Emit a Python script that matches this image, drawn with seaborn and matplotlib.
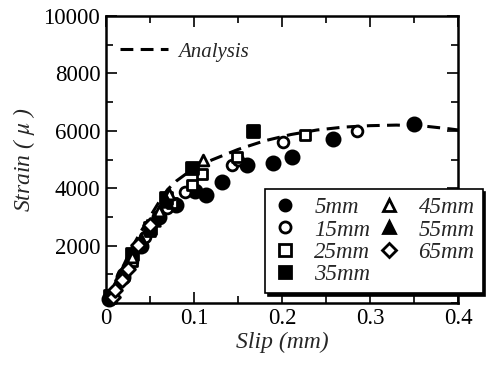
import matplotlib
matplotlib.use("Agg")
import matplotlib.pyplot as plt
import seaborn as sns
import pandas as pd
from matplotlib.lines import Line2D
from matplotlib.ticker import MultipleLocator

# ---- data ----
analysis_x = [0, 0.01, 0.02, 0.03, 0.04, 0.05, 0.06, 0.07, 0.08, 0.10, 0.12, 0.15,
              0.18, 0.21, 0.24, 0.27, 0.30, 0.33, 0.36, 0.39, 0.40]
analysis_y = [0, 650, 1300, 1950, 2500, 3000, 3500, 3950, 4250, 4700, 4980, 5350,
              5650, 5870, 6030, 6130, 6180, 6200, 6170, 6070, 6030]

s5_x = [0.004, 0.02, 0.04, 0.06, 0.08, 0.101, 0.114, 0.132, 0.160, 0.190, 0.211, 0.258, 0.350]
s5_y = [150, 900, 2000, 3000, 3400, 3900, 3780, 4200, 4800, 4880, 5090, 5700, 6250]
s15_x = [0.005, 0.02, 0.045, 0.07, 0.090, 0.143, 0.150, 0.201, 0.285]
s15_y = [200, 1000, 2300, 3300, 3850, 4800, 5000, 5610, 6000]
s25_x = [0.006, 0.03, 0.05, 0.075, 0.098, 0.109, 0.149, 0.226]
s25_y = [220, 1450, 2500, 3500, 4100, 4500, 5100, 5850]
s35_x = [0.005, 0.03, 0.05, 0.068, 0.098, 0.167]
s35_y = [250, 1700, 2600, 3650, 4700, 6000]
s45_x = [0.005, 0.03, 0.06, 0.072, 0.110]
s45_y = [200, 1600, 3200, 3800, 4980]
s55_x = [0.005, 0.02, 0.04, 0.055, 0.068]
s55_y = [200, 1100, 2200, 2900, 3550]
s65_x = [0.008, 0.010, 0.018, 0.025, 0.036, 0.050]
s65_y = [210, 450, 800, 1200, 2020, 2700]

labels = ["5mm", "15mm", "25mm", "35mm", "45mm", "55mm", "65mm"]
series_x = [s5_x, s15_x, s25_x, s35_x, s45_x, s55_x, s65_x]
series_y = [s5_y, s15_y, s25_y, s35_y, s45_y, s55_y, s65_y]
markers = ["o", "o", "s", "s", "^", "^", "D"]
filled = [True, False, False, True, False, True, False]
msizes = [90, 60, 60, 80, 60, 70, 50]

xticks = [0, 0.1, 0.2, 0.3, 0.4]
xticklabels = ["0", "0.1", "0.2", "0.3", "0.4"]
yticks = [2000, 4000, 6000, 8000, 10000]

# ---- style ----
sns.set_style("ticks")
plt.rcParams["font.family"] = ["Liberation Serif", "DejaVu Serif"]
plt.rcParams["mathtext.fontset"] = "stix"

fig = plt.figure(figsize=(4.9, 3.74), dpi=100)
ax = fig.add_axes([0.216, 0.190, 0.719, 0.767])

dash = (0, (4.2, 2.4))
sns.lineplot(x=analysis_x, y=analysis_y, ax=ax, color="black", lw=2.2,
             linestyle=dash, zorder=1)

for lab, xs, ys, m, f, s in zip(labels, series_x, series_y, markers, filled, msizes):
    df = pd.DataFrame({"x": xs, "y": ys})
    sns.scatterplot(data=df, x="x", y="y", ax=ax, marker=m, s=s,
                    facecolor="black" if f else "white", edgecolor="black",
                    linewidth=2.0, zorder=3, clip_on=False)

ax.set_xlim(0, 0.4)
ax.set_ylim(0, 10000)
ax.set_xticks(xticks)
ax.set_xticklabels(xticklabels)
ax.set_yticks(yticks)
ax.xaxis.set_minor_locator(MultipleLocator(0.05))
ax.yaxis.set_minor_locator(MultipleLocator(1000))
ax.tick_params(which="both", direction="in", top=True, right=True, width=1.2,
               labelsize=16.5, colors="black", pad=4)
ax.tick_params(which="major", length=8)
ax.tick_params(which="minor", length=5)
for sp in ax.spines.values():
    sp.set_linewidth(1.8)
    sp.set_color("black")

ax.set_xlabel("Slip (mm)", fontsize=17, style="italic", labelpad=2)
ax.set_ylabel("Strain ( $\\mu$ )", fontsize=17, style="italic", labelpad=5)

# legends
h_an = [Line2D([0], [0], color="black", lw=2.2, linestyle=dash)]
leg1 = ax.legend(h_an, ["Analysis"], loc="upper left", frameon=False,
                 handlelength=2.3, prop={"style": "italic", "size": 15},
                 bbox_to_anchor=(0.0, 0.96), borderaxespad=0.3, handletextpad=0.45)
ax.add_artist(leg1)

handles = []
for m, f in zip(markers, filled):
    handles.append(Line2D([0], [0], marker=m, linestyle="none", markersize=8 if m != "D" else 7,
                          markerfacecolor="black" if f else "white",
                          markeredgecolor="black", markeredgewidth=2.0))
leg2 = ax.legend(handles, labels, ncol=2, loc="lower left",
                 bbox_to_anchor=(0.452, 0.035),
                 prop={"style": "italic", "size": 16.5}, frameon=True, fancybox=False,
                 shadow={"color": "black", "ox": 2, "oy": -2, "alpha": 1},
                 edgecolor="black", framealpha=1, borderpad=0.35, labelspacing=0.05,
                 handlelength=1.0, handletextpad=0.8, columnspacing=0.3,
                 borderaxespad=0)
leg2.get_frame().set_linewidth(1.2)
leg2.set_zorder(5)

fig.savefig("out.png", dpi=100)
